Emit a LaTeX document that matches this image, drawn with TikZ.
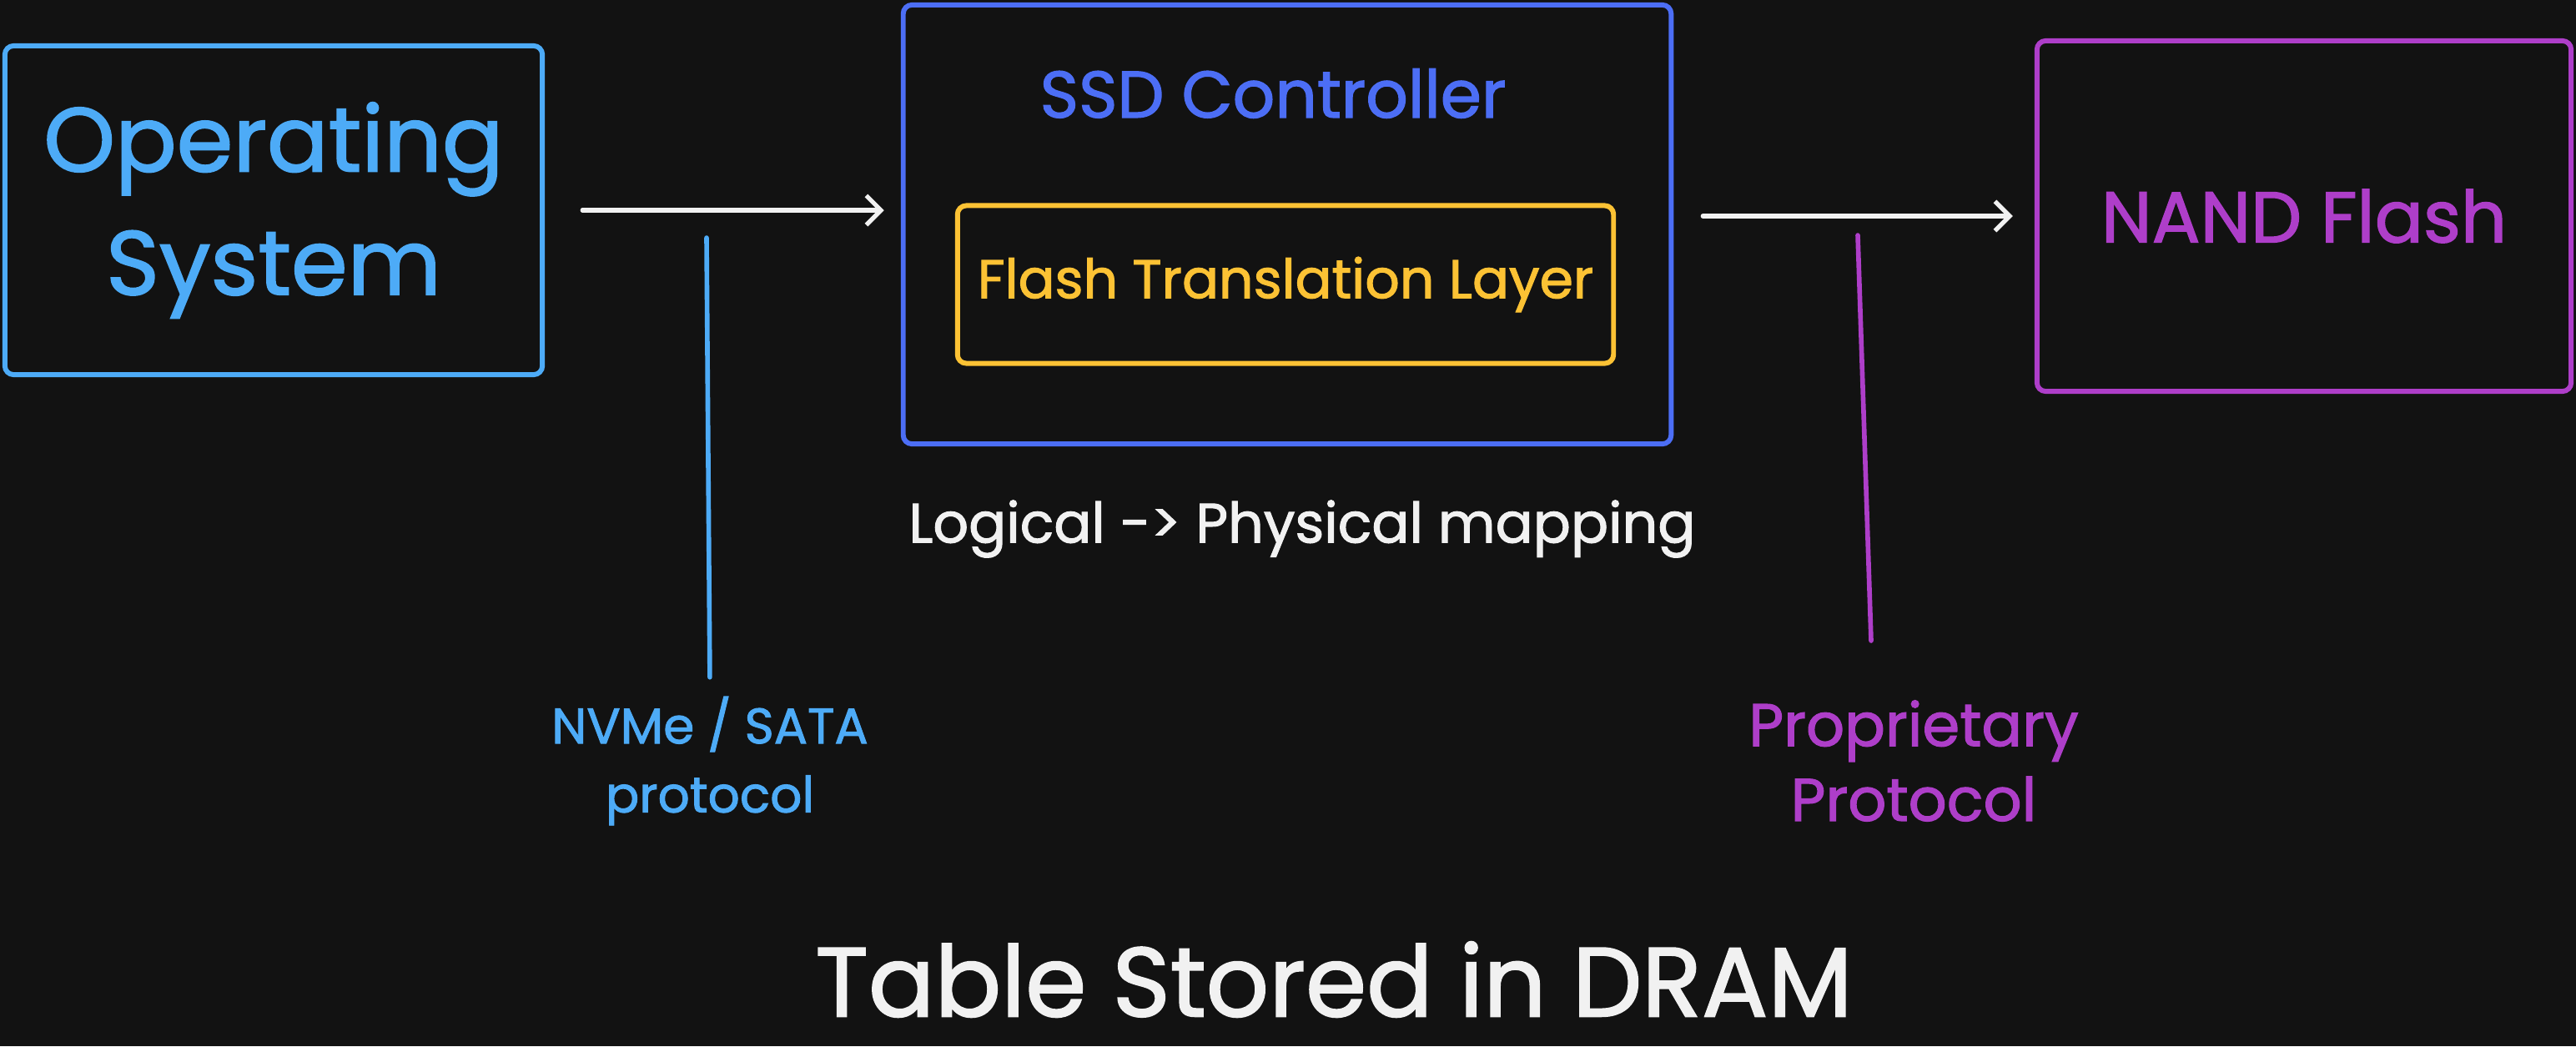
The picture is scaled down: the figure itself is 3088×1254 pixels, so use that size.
\documentclass[tikz,border=0pt]{standalone}
\usepackage{fontspec}
\setmainfont{Poppins}[FakeBold=1.6]
\usetikzlibrary{arrows.meta, positioning, calc}
\definecolor{bgdark}{HTML}{121212}
\definecolor{osblue}{HTML}{4DABF7}
\definecolor{ctrlblue}{HTML}{4C6EF5}
\definecolor{ftlyellow}{HTML}{FCC234}
\definecolor{nandpurple}{HTML}{AE3EC9}
\definecolor{chalk}{HTML}{F1F1F1}

\begin{document}
\begin{tikzpicture}[x=0.01cm, y=-0.01cm,
    box/.style={rectangle, draw, line width=1.7pt, rounded corners=3pt, align=center},
    arr/.style={-{Straight Barb[length=5pt, width=10pt, line width=1.5pt]}, line width=1.5pt, line cap=round, draw=chalk},
    wire/.style={line width=1.6pt, line cap=round},
    tag/.style={align=center}
  ]
  \fill[bgdark] (0,0) rectangle (3088,1254);

  % Boxes
  \node[box, draw=osblue, text=osblue, minimum width=6.44cm, minimum height=3.94cm,
        font=\fontsize{31}{42}\selectfont] (os) at (328,252) {Operating\\System};
  \node[box, draw=ctrlblue, minimum width=9.2cm, minimum height=5.26cm] (ctrl) at (1543,269) {};
  \node[tag, text=ctrlblue, font=\fontsize{22.5}{28}\selectfont] (ctrltitle) at (1526,112) {SSD Controller};
  \node[box, draw=ftlyellow, text=ftlyellow, minimum width=7.86cm, minimum height=1.89cm,
        font=\fontsize{18.5}{24}\selectfont] (ftl) at (1541,341) {Flash Translation Layer};
  \node[box, draw=nandpurple, text=nandpurple, minimum width=6.4cm, minimum height=4.2cm,
        font=\fontsize{24.5}{30}\selectfont] (nand) at (2762,259) {NAND Flash};

  % Connections
  \draw[arr, shorten <=0.45cm, shorten >=0.2cm] (os.east) -- (os.east -| ctrl.west);
  \draw[arr, shorten <=0.35cm, shorten >=0.26cm] (nand.west -| ctrl.east) -- (nand.west);

  % Labels
  \node[tag, text=chalk, font=\fontsize{19}{24}\selectfont] (mapping) at (1561,634) {Logical -> Physical mapping};
  \node[tag, text=osblue, font=\fontsize{17}{23.5}\selectfont] (nvme) at (851,912) {NVMe / SATA\\protocol};
  \node[tag, text=nandpurple, font=\fontsize{20.5}{25.5}\selectfont] (proto) at (2294,912) {Proprietary\\Protocol};
  \node[tag, text=chalk, inner sep=1pt, font=\fontsize{33.5}{40}\selectfont] (dram) at (1599,1174) {Table Stored in DRAM};

  \coordinate (nvtop) at (847,285);
  \coordinate (prtop) at (2227,282);
  \coordinate (prbot) at (2243,768);
  \draw[wire, osblue, shorten >=3pt] (nvtop) -- (nvme.north);
  \draw[wire, nandpurple] (prtop) -- (prbot);
\end{tikzpicture}
\end{document}
